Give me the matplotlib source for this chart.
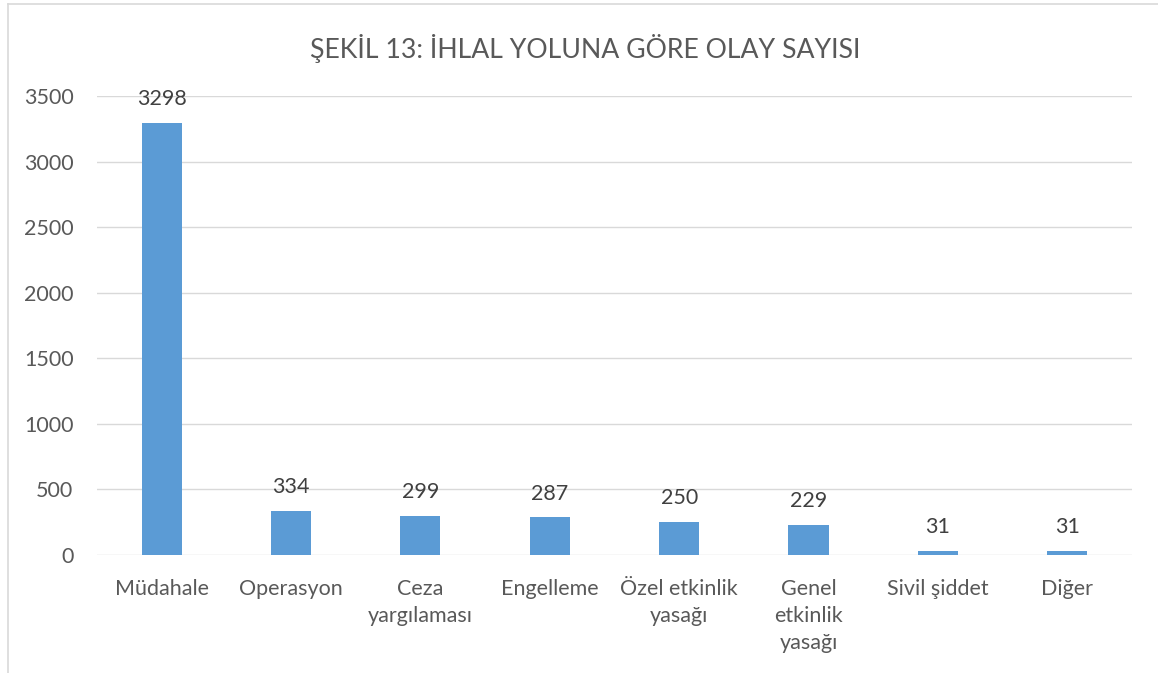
import numpy as np
import matplotlib.pyplot as plt

# categories and counts
kategoriler = ["Müdahale", "Operasyon", "Ceza\nyargılaması", "Engelleme",
               "Özel etkinlik\nyasağı", "Genel\netkinlik\nyasağı",
               "Sivil şiddet", "Diğer"]
olay_sayisi = [3298, 334, 299, 287, 250, 229, 31, 31]
y_ticks = [0, 500, 1000, 1500, 2000, 2500, 3000, 3500]
baslik = "ŞEKİL 13: İHLAL YOLUNA GÖRE OLAY SAYISI"

plt.rcParams['font.family'] = ['Lato', 'DejaVu Sans']
gri = "#595959"

fig = plt.figure(figsize=(11.58, 6.73), dpi=100)
ax = fig.add_axes([0.0838, 0.1753, 0.8937, 0.6817])

x = np.arange(len(kategoriler))
ax.bar(x, olay_sayisi, width=0.31, color="#5B9BD5", zorder=3)

for xi, v in zip(x, olay_sayisi):
    ax.annotate(str(v), (xi, v), xytext=(0, 10), textcoords="offset points",
                ha="center", va="bottom", fontsize=15.5, color="#404040")

ax.set_xlim(-0.5, len(kategoriler) - 0.5)
ax.set_ylim(0, 3500)
ax.set_yticks(y_ticks)
ax.set_xticks(x)
ax.set_xticklabels(kategoriler, fontsize=15.5, color=gri, linespacing=1.42, va="top")
ax.tick_params(axis="y", labelsize=15.5, labelcolor=gri, length=0, pad=17)
ax.tick_params(axis="x", length=0, pad=17.5)
ax.grid(axis="y", color="#d9d9d9", linewidth=1, zorder=0)
for s in ax.spines.values():
    s.set_visible(False)

fig.text(0.505, 0.928, baslik, ha="center", va="center", fontsize=19.2, color=gri)

# chart border (only top and left visible in the reference crop)
fig.add_artist(plt.Line2D([0.007, 0.007], [0, 0.994], color="#d9d9d9", lw=1.2))
fig.add_artist(plt.Line2D([0.007, 1], [0.994, 0.994], color="#d9d9d9", lw=1.2))

fig.savefig("out.png", dpi=100)
